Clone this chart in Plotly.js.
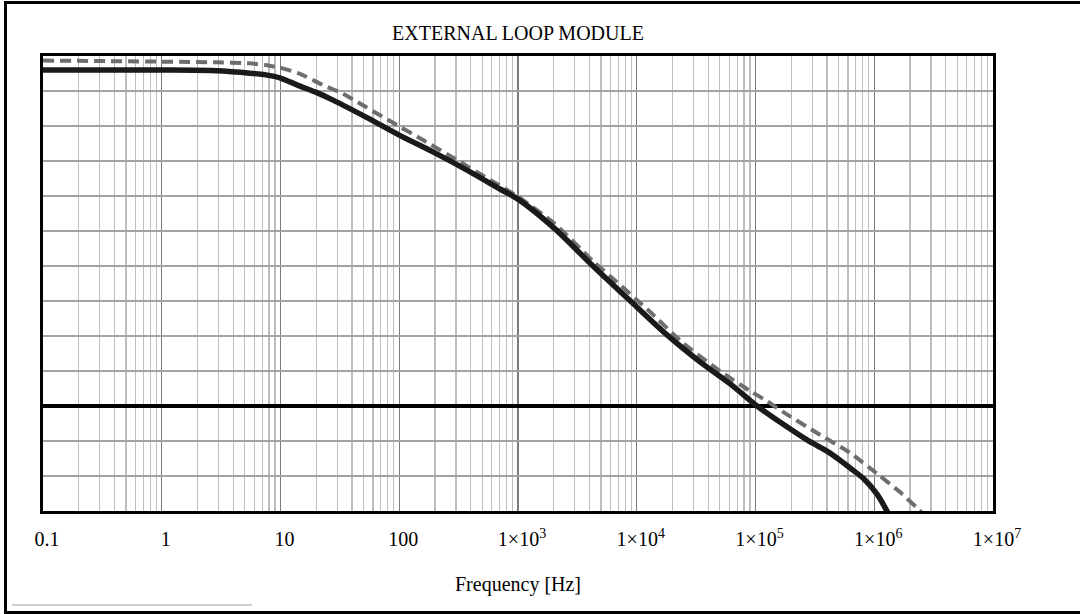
<!DOCTYPE html>
<html>
<head>
<meta charset="utf-8">
<script src="https://cdn.plot.ly/plotly-3.0.1.min.js"></script>
<style>
  html, body { margin: 0; padding: 0; background: #fff; }
  #wrap { position: relative; width: 1080px; height: 614px; overflow: hidden; }
  #chart { position: absolute; left: 0; top: 0; width: 1080px; height: 614px; }
  #frame { position: absolute; left: 4px; top: 1px; width: 1080px; height: 613px;
           border: 3px solid #000; box-sizing: border-box; pointer-events: none; }
  #foot { position: absolute; left: 12px; top: 604px; width: 240px; height: 2px;
          background: #cfcfcf; pointer-events: none; }
</style>
</head>
<body>
<div id="wrap">
  <div id="chart"></div>
  <div id="frame"></div>
  <div id="foot"></div>
</div>
<script>
// ---- data ----
const chartTitle = "EXTERNAL LOOP MODULE";
const xAxisTitle = "Frequency [Hz]";

const freqSolid = [0.1, 1, 2.92, 5.53, 7.5, 10, 12, 14.6, 20, 27.7, 53.5, 100, 192, 372, 705, 1000,
                   2050, 4280, 10000, 17980, 34100, 64640, 103000, 271500, 400000, 514800,
                   660000, 804000, 1055000, 1280000, 1555000];
const magSolid  = [96.0, 96.0, 95.8, 95.1, 94.6, 93.7, 92.6, 91.4, 89.6, 87.4, 82.4, 77.4, 72.6, 67.4, 62.0, 59.1,
                   50.6, 40.0, 28.3, 20.3, 12.6, 5.7, 0.0, -9.7, -12.9, -15.5,
                   -18.3, -20.6, -25.2, -30.0, -35.0];

const freqDash = [0.1, 2.92, 5.53, 7.5, 10, 14.6, 22.8, 32.9, 44.1, 83.6, 158.5, 306, 581, 981,
                  2050, 4280, 6820, 10000, 12930, 24510, 47400, 89900, 125000, 170400,
                  329600, 625000, 1118000, 1648000, 2290000, 2676000];
const magDash  = [98.7, 98.2, 97.9, 97.4, 96.6, 94.9, 91.7, 89.4, 86.9, 81.4, 76.0, 70.3, 64.6, 60.0,
                  52.0, 41.4, 35.4, 30.3, 26.9, 18.0, 10.6, 4.3, 1.4, -1.7,
                  -7.7, -13.4, -20.0, -24.6, -29.1, -31.4];

const tickVals = [0.1, 1, 10, 100, 1e3, 1e4, 1e5, 1e6, 1e7];
const tickText = ["0.1", "1", "10", "100",
                  "1\u00d710<sup>3</sup>", "1\u00d710<sup>4</sup>", "1\u00d710<sup>5</sup>",
                  "1\u00d710<sup>6</sup>", "1\u00d710<sup>7</sup>"];

// minor grid positions (2..9 within each decade)
const minorVals = [];
for (let d = -1; d < 7; d++) {
  for (let m = 2; m <= 9; m++) minorVals.push(m * Math.pow(10, d));
}

const serif = "Liberation Serif, Times New Roman, serif";

const traces = [
  {
    x: freqDash, y: magDash, type: "scatter", mode: "lines",
    line: { color: "#6e6e6e", width: 4, dash: "11px,6px", shape: "spline", smoothing: 0.6 },
    hoverinfo: "skip", showlegend: false
  },
  {
    x: freqSolid, y: magSolid, type: "scatter", mode: "lines",
    line: { color: "#1a1a1a", width: 5.5, shape: "spline", smoothing: 0.8 },
    hoverinfo: "skip", showlegend: false
  }
];

const layout = {
  width: 1080, height: 614,
  margin: { l: 43, r: 87, t: 56, b: 103, pad: 0 },
  paper_bgcolor: "#ffffff", plot_bgcolor: "#ffffff",
  font: { family: serif, color: "#000", size: 19 },
  title: {
    text: chartTitle, font: { family: serif, size: 20, color: "#000" },
    x: 0.5, xref: "paper", xanchor: "center",
    y: 1 - 33 / 614, yref: "container", yanchor: "middle"
  },
  xaxis: {
    type: "log", range: [-1, 7],
    tickvals: tickVals, ticktext: tickText,
    ticks: "", ticklabelstandoff: 8, ticklabelshift: 4,
    tickfont: { family: serif, size: 20, color: "#000" },
    showgrid: true, gridcolor: "#7a7a7a", gridwidth: 1.2,
    minor: { tickvals: minorVals, showgrid: true, gridcolor: "#bdbdbd", gridwidth: 1.2, ticks: "" },
    showline: true, mirror: true, linecolor: "#000", linewidth: 3,
    zeroline: false,
    title: { text: xAxisTitle, font: { family: serif, size: 20, color: "#000" }, standoff: 28 },
    fixedrange: true
  },
  yaxis: {
    range: [-30, 100], tick0: 0, dtick: 10,
    showticklabels: false, ticks: "",
    showgrid: true, gridcolor: "#a4a4a4", gridwidth: 1.5,
    zeroline: true, zerolinecolor: "#000", zerolinewidth: 3.5,
    showline: true, mirror: true, linecolor: "#000", linewidth: 3,
    fixedrange: true
  }
};

Plotly.newPlot("chart", traces, layout, { staticPlot: true, displayModeBar: false });
</script>
</body>
</html>
